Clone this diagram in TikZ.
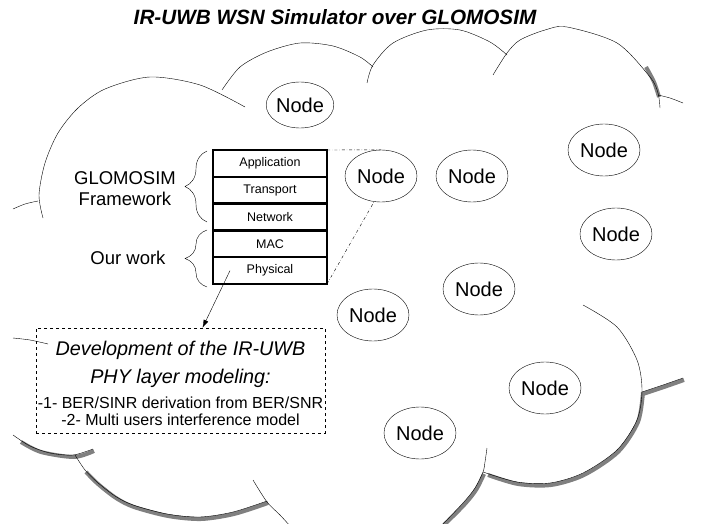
\documentclass[tikz,border=0pt]{standalone}
\usepackage{fontspec}
\setmainfont{Liberation Sans}
\usetikzlibrary{positioning,shapes.geometric,decorations.pathreplacing,arrows.meta}

\begin{document}
\begin{tikzpicture}[x=1pt, y=-1pt,
		nodeell/.style={draw, ellipse, minimum width=72, minimum height=52, inner sep=0pt, font=\fontsize{20}{24}\selectfont},
		layer/.style={draw, line width=2.5pt, minimum width=114, minimum height=26.8, inner sep=0pt, outer sep=0pt, font=\fontsize{12.5}{15}\selectfont},
		shade/.style={color=black!50, line width=4pt, shift={(1,2)}},
		bracel/.style={decorate, decoration={brace, amplitude=22pt}}]
		%%%%% START %%%%%
		
		\useasboundingbox (0, 0) rectangle (701, 524);
		
		\node[font=\fontsize{20.7}{24}\selectfont\bfseries\itshape] (title) at (335, 17) {IR-UWB WSN Simulator over GLOMOSIM};
		
		\draw[shade] plot[smooth] coordinates {(645, 65) (653, 80) (658, 95)};
		\draw[shade] plot[smooth] coordinates {(642, 392) (663, 385) (683, 378)};
		\draw[shade] plot[smooth] coordinates {(642, 390) (637, 420) (617, 450) (583, 473) (550, 483) (517, 482) (487, 473)};
		\draw[shade] plot[smooth] coordinates {(483, 472) (475, 488) (463, 503) (443, 523)};
		\draw[shade] plot[smooth] coordinates {(20, 440) (40, 450) (73, 455) (93, 449)};
		\draw[shade] plot[smooth] coordinates {(85, 470) (97, 482) (115, 496) (133, 505) (167, 514) (200, 517) (233, 512) (267, 501)};
		
		\draw plot[smooth] coordinates {(13, 209) (25, 204) (38, 201)};
		\draw plot[smooth] coordinates {(43, 218) (39, 195) (45, 163) (58, 133) (78, 108) (105, 89) (150, 77) (200, 85) (245, 107)};
		\draw plot[smooth] coordinates {(222, 90) (240, 67) (267, 52) (300, 43) (333, 46) (360, 57) (373, 67)};
		\draw plot[smooth] coordinates {(367, 83) (373, 65) (393, 43) (427, 30) (460, 30) (490, 42) (507, 55)};
		\draw plot[smooth] coordinates {(493, 75) (507, 53) (520, 40) (545, 30) (567, 27) (617, 43) (650, 77) (658, 93) (660, 108)};
		\draw plot[smooth] coordinates {(658, 95) (670, 98) (683, 103)};
		
		\draw plot[smooth] coordinates {(583, 305) (617, 327) (637, 360) (642, 390) (637, 420) (617, 450) (583, 473) (550, 483) (517, 482) (483, 472)};
		\draw plot[smooth] coordinates {(642, 392) (663, 385) (683, 378)};
		\draw plot[smooth] coordinates {(487, 448) (485, 462) (483, 472) (475, 488) (463, 503) (440, 527)};
		\draw plot[smooth] coordinates {(253, 480) (267, 502) (280, 515) (291, 527)};
		\draw plot[smooth] coordinates {(75, 455) (85, 470) (97, 482) (115, 496) (133, 505) (167, 514) (200, 517) (233, 512) (267, 501)};
		\draw plot[smooth] coordinates {(13, 435) (30, 446) (50, 453) (73, 455) (93, 449)};
		\draw plot[smooth] coordinates {(13, 338) (30, 340) (48, 344)};
		
		\node[nodeell, minimum width=66, minimum height=46] (n1) at (300, 105) {Node};
		\node[nodeell] (n2) at (381, 176) {Node};
		\node[nodeell] (n3) at (472, 176) {Node};
		\node[nodeell] (n4) at (604, 150) {Node};
		\node[nodeell] (n5) at (616, 234) {Node};
		\node[nodeell] (n6) at (479, 289) {Node};
		\node[nodeell] (n7) at (373, 315) {Node};
		\node[nodeell] (n8) at (545, 388) {Node};
		\node[nodeell] (n9) at (420, 433) {Node};
		
		\node[layer] (app) at (270, 163.4) {Application};
		\node[layer, below=0pt of app] (trans) {Transport};
		\node[layer, below=0pt of trans] (net) {Network};
		\node[layer, below=0pt of net] (mac) {MAC};
		\node[layer, below=0pt of mac] (phy) {Physical};
		
		\draw[dash dot] (app.north east) -- (n2.north);
		\draw[dash dot] (phy.south east) -- (n2.255);
		
		\draw[bracel] (207, 222) -- (207, 151);
		\draw[bracel] (207, 287) -- (207, 230);
		\node[align=center, font=\fontsize{18.5}{21}\selectfont] (glomo) at (125, 189) {GLOMOSIM\\Framework};
		\node[font=\fontsize{18.5}{21}\selectfont] (ours) at (128, 258) {Our work};
		
		\node[draw, dashed, minimum width=289, minimum height=105, inner sep=0pt, align=center, font=\fontsize{16}{17}\selectfont] (desc) at (180.5, 380.5)
			{\rule{0pt}{20pt}{\fontsize{19.8}{24}\selectfont\itshape Development of the IR-UWB}\\[8pt]
			 {\fontsize{19.8}{24}\selectfont\itshape PHY layer modeling:}\\[8pt]
			 -1- BER/SINR derivation from BER/SNR\\
			 -2- Multi users interference model};
		\draw[-{Latex[length=8pt, width=5pt]}] ([xshift=-40pt]phy.center) -- ([xshift=22pt]desc.north);
		
		%%%%% END %%%%%
	\end{tikzpicture}
\end{document}
